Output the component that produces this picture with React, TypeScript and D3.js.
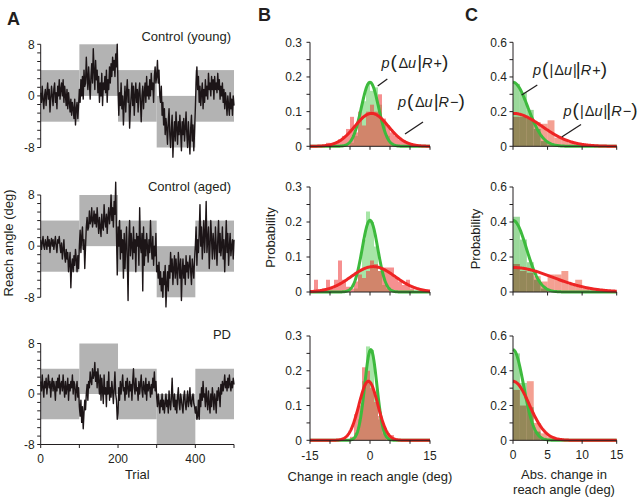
import React from "react";
import * as d3 from "d3";

const FONT = "'Liberation Sans', Arial, Helvetica, sans-serif";

// ---------------- Panel A data ----------------
const TRIAL_STEP = 2;
const groupNames = ["Control (young)", "Control (aged)", "PD"];
const blockStart = [0, 100, 200, 300, 400];
const blockLow = [-4, 0, -4, -8, -4];
const blockHigh = [4, 8, 4, 0, 4];
const trialTicks = [0, 100, 200, 300, 400, 500];
const trialTickLabels = [0, 200, 400];
const reachTickLabels = [8, 0, -8];

const reachYoung = [
  0.5, -1, 1.5, -0.5, -2, 0, 1, -1.5, 0.5, 2, -0.5, 1, -2.5, -0.5, 1.5, 0, -1.5, 1, 2, -1, 0.5, -2, 1.5, 0, 2.5,
  -0.5, 1, 2, 0, 2.5, -1, 1.5, 0, -1.5, 1, -2, 0.5, -1, -2.5, -0.5, -3, -1, -2, -3.5, -0.5, -4.5, -2, -1, -3.5, -1.5,
  1, -1, 2.5, 0, 3, -0.5, 4, 1.5, 2, 6, 3, 1, 4.5, 2, -0.5, 3, 5, 2, 7.3, 4, 1, 5.5, 2.5, 4, 0.5,
  3, -1, 2, 0, 3.5, -1.5, 2, 1, 3, 0.5, 4, -1, 2.5, 1, 4.5, 2, 5, 3, 6, 4, 5.5, 3, 6.5, 4.5, 8,
  1, -3, 0.5, -1.5, 2, -2, 0, -4.5, -1, 1.5, -2.5, 0.5, 2.5, -1, 1, -5, -2, 0, 2, -1.5, 1.5, -3, 0, 2, -1,
  1, -2.5, 0.5, 2, -1, -4, 0, 1.5, -2, 0.5, 2, -1, 3, 0, 1.5, -0.5, 2.5, 0, 3.5, 1, 2, -1, 3, 4.5, 2,
  3, 5.5, 2, 4, 0, -1, 1.5, -3, -1, -4.5, -2, -6, -3.5, -5, -7.5, -4, -2, -6, -8, -5, -3, -9.5, -6, -4, -7,
  -2.5, -5, -7.5, -4, -6, -3, -5.5, -8.5, -4, -6, -3.5, -7, -5, -2.5, -6, -8, -4, -6.5, -9, -5, -3, -7, -4.5, -8.5, -5.5,
  -2, 2, 4.5, 1, 3, -1, 1.5, -1.5, 0.5, 2, -2, 1, -1, 2.5, 0, 1.5, -0.5, 3.5, 1, 2, 0, 3, 1, 2.5, -0.5,
  3, 1, 2, 0.5, 3.5, 1, 2.5, -0.5, 1.5, 0, 2, -1, 1, -2, 0.5, -1, -3, 0, -1.5, -3, 0.5, -2, -0.5, -3, 0,
  -1.5,
];
const reachAged = [
  1, -0.5, 0.5, 1.5, 0, -0.5, 1, 0.5, -0.5, 1.5, 0, 1, -1, 0.5, 1.2, 0, 1, -0.5, 0.5, 1.5, 0, -1, 1, 0.5, 1.5,
  0, -1, 0.5, -2, -0.5, 1, -1.5, -2.5, -0.5, -2, -1, -4, -2.5, -1, -6.5, -3, -2, -4, -1.5, -3, -0.5, -2, -4, -1.5, -3.5,
  0, 2.5, -1, 1.5, 3, -0.5, 1, -3.5, 0, 3, 4.5, 2.5, 3, 5.5, 3.5, 4, 6, 3, 4, 5.5, 3.5, 5, 3, 6, 4,
  2, 4.5, 3, 1.5, 5, 3, 2.5, 6.5, 4, 3, 5, 2, 4.5, 6, 3.5, 5, 8, 4, 6, 3, 7, 5, 10, 2, -4.5,
  3, 0, 4, -2, 2.5, -1, 1, -5, 2, -3.5, 0, 3, -2, -8.5, 1, 4, -1.5, 2, 0, -2, 3, -1, 1, -4, 2,
  0, 1.5, -3, 6, 0, -1, 2, -7, 3, -3, 1, -1.5, 2, 0, -2.5, 1, -1, 4, 0, -2, 1.5, -3, 0, -1.5, 2,
  -4, -3, -5, -2.5, -6, -4, -7, -5, -8, -4, -6, -3, -9.5, -6, -4, -7, -3, -5, -1, -4, -2, -6, -3.5, -1.5, -5,
  -2, -4, -6, -1, -3, -5, -2, -8.5, -4, -2, -5, -3, -6, -1.5, -4, -2.5, -5, -3, -1.5, -4, -6, -2, -3.5, -5, -2,
  0, 3, -3, 1, -1, 2, 6.5, 0, 3, -2, 1, 4, -1, 2, 7, -1, 1, 3, -3.5, 0, 4, 1, -2, 2, 0,
  -2, 3, 0, -3, 1, 4, -1, 2, -1.5, 0, 3, -2, 1, -4, 0, 4, -1, 2, -3, 0, 2, -1.5, 0, 1, -2,
  1,
];
const reachPD = [
  2, 0.5, 3, 1, -0.5, 2, 1, 2.5, 0, 1.5, 3, 1, 2, -0.5, 1.5, 2.5, 0.5, 2, 1, -1, 2, 0.5, 2.5, 1, 3,
  0, 1.5, 2, 0.5, 3, 1, -0.5, 2, 0, 1, 2.5, -1, 1.5, 0.5, 2, 1, 3, 0, 2, 1.5, -1, 0.5, 2, -0.5, 1,
  -2, -3.5, -1, -4.5, -2, -5.5, -3, -1, -2.5, 0, 1.5, -1, 2, 1, 3.5, 2, 1.5, 4, 2.5, 3, 5, 2, 3.5, 1, 4,
  2, 0, 3, -1, 2.5, 0.5, -1.5, 3, 0, 1, -2, 2, 0, 3.5, -1, 1, -0.5, 2, 0.5, -1.5, 1, 3.5, 0, -1, -4,
  -3, 1, -1, 2, 0, 1.5, 3, 0.5, 1, -1, 2, 0, 2.5, 1, -0.5, 2, 0.5, 1.5, -1, 2, 4, 1, 0, 2.5, 0.5,
  1, -1, 2, 0, 1.5, 3, 0.5, -0.5, 2, 1, 0, 2.5, -1, 1.5, 0.5, 2, 1, -0.5, 1.5, 0, 2.5, 1, 3.5, 0.5, 2,
  -0.5, -2, 0, -1.5, -3, -1, -2, 0, -2.5, -1, -3, -1.5, 0, -2, -1, -3, 0.5, -1.5, -2.5, -0.5, 2.5, -1, -2, 0, -2.5,
  -1, -3, -0.5, 1, -1.5, -2.5, 0, -1, -2, -3, -0.5, 0.5, -1.5, -2.5, -1, 0.5, -2, -1, 1, -1.5, -2, -0.5, 0, -1.5, -2,
  -3, -2, -4, -3.5, -1, -4, 0, -2, 1, -1, 2, -0.5, 0, -2, 1, -1, -2.5, 0.5, -1.5, -3, 0, -2, 1, -0.5, -2.5,
  0, -1, -3, 0.5, -1, 1, 0, -2, 1.5, 0, 2, 0.5, 1.5, 3, 1, 2, 0.5, 2.5, 1, 3, 1.5, 0.5, 2, 1, 2.5,
  1.5,
];

// ---------------- Panel B data (bin left edges -15..14, width 1 deg) ----------------
const deltaBinLeft = d3.range(-15, 15);
const deltaTicks = [-15, -10, -5, 0, 5, 10, 15];
const deltaTickLabels = [-15, 0, 15];
const probTicksB = [0, 0.05, 0.1, 0.15, 0.2, 0.25, 0.3];
const probLabelsB = [0.3, 0.2, 0.1, 0];

const deltaRewardYoung = [0,0,0,0,0, 0,0,0,0,0, 0.01,0.03,0.08,0.13,0.18, 0.16,0.17,0.12,0.07,0.03, 0.01,0,0,0,0, 0,0,0,0,0];
const deltaNoRewardYoung = [0,0,0,0,0.01, 0.005,0.01,0.02,0.03,0.05, 0.085,0.04,0.1,0.06,0.1, 0.12,0.1,0.15,0.08,0.06, 0.04,0.03,0.02,0.015,0.01, 0.005,0,0,0,0];
const deltaRewardAged = [0,0,0,0,0, 0,0,0,0,0, 0,0.01,0.06,0.15,0.23, 0.2,0.13,0.06,0.02,0.01, 0,0,0,0,0, 0,0,0,0,0];
const deltaNoRewardAged = [0,0.035,0,0.01,0.035, 0.01,0.035,0.09,0.035,0.015, 0.01,0.03,0.05,0.04,0.06, 0.09,0.08,0.06,0.07,0.07, 0.07,0.04,0.03,0.02,0.035, 0.01,0,0,0,0];
const deltaRewardPD = [0,0,0,0,0, 0,0,0,0,0, 0,0.02,0.06,0.17,0.27, 0.26,0.14,0.06,0.02,0, 0,0,0,0,0, 0,0,0,0,0];
const deltaNoRewardPD = [0,0,0,0,0, 0,0,0,0,0, 0.01,0.075,0.1,0.21,0.2, 0.15,0.11,0.07,0.03,0.02, 0.015,0,0,0,0, 0,0,0,0,0];

// Gaussian fits (mean, sd) for each group
const fitRewardMean = [0, 0, 0.2];
const fitRewardSd = [2.16, 1.95, 1.53];
const fitNoRewardMean = [0.4, 0.8, -0.4];
const fitNoRewardSd = [4.2, 5.5, 2.35];

// ---------------- Panel C data (bin left edges 0..14) ----------------
const absBinLeft = d3.range(0, 15);
const absTicks = [0, 5, 10, 15];
const probTicksC = [0, 0.1, 0.2, 0.3, 0.4, 0.5, 0.6];
const probLabelsC = [0.6, 0.4, 0.2, 0];

const absRewardYoung = [0.36,0.31,0.21,0.1,0.03,0.01,0,0,0,0,0,0,0,0,0];
const absNoRewardYoung = [0.17,0.17,0.16,0.14,0.13,0.15,0.05,0.04,0.02,0.02,0.01,0,0,0,0];
const absRewardAged = [0.43,0.3,0.17,0.07,0.02,0,0,0,0,0,0,0,0,0,0];
const absNoRewardAged = [0.16,0.12,0.11,0.09,0.06,0.1,0.1,0.12,0.04,0.07,0.02,0.01,0,0,0];
const absRewardPD = [0.5,0.33,0.19,0.05,0.01,0,0,0,0,0,0,0,0,0,0];
const absNoRewardPD = [0.29,0.2,0.34,0.1,0.04,0.02,0.01,0,0,0,0,0,0,0,0];

const absFitRewardSd = [2.16, 1.95, 1.53];
const absFitNoRewardSd = [4.2, 5.7, 2.35];

// ---------------- helpers ----------------
const traces = [reachYoung, reachAged, reachPD];
const deltaReward = [deltaRewardYoung, deltaRewardAged, deltaRewardPD];
const deltaNoReward = [deltaNoRewardYoung, deltaNoRewardAged, deltaNoRewardPD];
const absReward = [absRewardYoung, absRewardAged, absRewardPD];
const absNoReward = [absNoRewardYoung, absNoRewardAged, absNoRewardPD];

const normPdf = (x: number, m: number, s: number) =>
  Math.exp(-0.5 * ((x - m) / s) ** 2) / (s * Math.sqrt(2 * Math.PI));

const AX = "#231f20";
const GREEN = "#3dba3d";
const RED = "#ee2424";

const rowsA = [
  { top: 44.3, bottom: 147.5 },
  { top: 195, bottom: 297.3 },
  { top: 343.5, bottom: 444.5 },
];
const rowsBC = [
  { top: 42.3, bottom: 146.3 },
  { top: 187, bottom: 292 },
  { top: 336, bottom: 440.3 },
];

function YAxis({ x, scale, ticks, labels, fmt, gap }: any) {
  const [d0, d1] = scale.domain();
  return (
    <g>
      <line x1={x} x2={x} y1={scale(d0)} y2={scale(d1)} stroke={AX} strokeWidth={1} />
      {ticks.map((t: number, i: number) => (
        <line key={i} x1={x - 3.5} x2={x} y1={scale(t)} y2={scale(t)} stroke={AX} strokeWidth={1} />
      ))}
      {labels.map((t: number, i: number) => (
        <text key={"l" + i} x={x - gap} y={scale(t)} dy="0.36em" textAnchor="end" fontSize={12} fill={AX} fontFamily={FONT}>
          {fmt(t)}
        </text>
      ))}
    </g>
  );
}

function XAxis({ y, scale, ticks, labels, labelY }: any) {
  const [d0, d1] = scale.domain();
  return (
    <g>
      <line x1={scale(d0)} x2={scale(d1)} y1={y} y2={y} stroke={AX} strokeWidth={1} />
      {ticks.map((t: number, i: number) => (
        <line key={i} x1={scale(t)} x2={scale(t)} y1={y} y2={y + 3.5} stroke={AX} strokeWidth={1} />
      ))}
      {labels &&
        labels.map((t: number, i: number) => (
          <text key={"l" + i} x={scale(t)} y={labelY} textAnchor="middle" fontSize={12} fill={AX} fontFamily={FONT}>
            {t}
          </text>
        ))}
    </g>
  );
}

function PanelA({ row }: { row: number }) {
  const { top, bottom } = rowsA[row];
  const x = d3.scaleLinear().domain([0, 500]).range([40.7, 234]);
  const y = d3.scaleLinear().domain([-8, 8]).range([bottom, top]);
  const data = traces[row];
  const line = d3
    .line<number>()
    .x((_, i) => x(i * TRIAL_STEP))
    .y((v) => y(v));
  const minorTicks = d3.range(13).map((i) => -8 + (i * 16) / 12);
  return (
    <g>
      {blockStart.map((s, i) => (
        <rect
          key={i}
          x={x(s)}
          width={x(s + 100) - x(s)}
          y={y(blockHigh[i])}
          height={y(blockLow[i]) - y(blockHigh[i])}
          fill="#b3b3b3"
        />
      ))}
      <path d={line(data) || ""} fill="none" stroke="#1c1517" strokeWidth={1.4} strokeLinejoin="round" />
      <YAxis x={40.7} scale={y} ticks={minorTicks} labels={reachTickLabels} fmt={(t: number) => String(t)} gap={6} />
      {row === 2 && <XAxis y={bottom} scale={x} ticks={trialTicks} labels={trialTickLabels} labelY={462.5} />}
      <text
        x={231}
        y={[40.5, 191, 339][row]}
        textAnchor="end"
        fontSize={13}
        fill={AX}
        fontFamily={FONT}
      >
        {groupNames[row]}
      </text>
    </g>
  );
}

function PanelB({ row }: { row: number }) {
  const { top, bottom } = rowsBC[row];
  const x = d3.scaleLinear().domain([-15, 15]).range([310, 430]);
  const y = d3.scaleLinear().domain([0, 0.3]).range([bottom, top]);
  const xs = d3.range(-15, 15.001, 0.1);
  const curve = (m: number, s: number) =>
    d3
      .line<number>()
      .x((v) => x(v))
      .y((v) => y(normPdf(v, m, s)))(xs) || "";
  return (
    <g>
      {deltaBinLeft.map((b, i) =>
        deltaReward[row][i] > 0 ? (
          <rect key={"g" + i} x={x(b)} width={x(b + 1) - x(b)} y={y(deltaReward[row][i])} height={y(0) - y(deltaReward[row][i])} fill="#5fcf5f" opacity={0.55} />
        ) : null
      )}
      {deltaBinLeft.map((b, i) =>
        deltaNoReward[row][i] > 0 ? (
          <rect key={"r" + i} x={x(b)} width={x(b + 1) - x(b)} y={y(deltaNoReward[row][i])} height={y(0) - y(deltaNoReward[row][i])} fill="#f04040" opacity={0.58} />
        ) : null
      )}
      <path d={curve(fitRewardMean[row], fitRewardSd[row])} fill="none" stroke={GREEN} strokeWidth={3} />
      <path d={curve(fitNoRewardMean[row], fitNoRewardSd[row])} fill="none" stroke={RED} strokeWidth={3} />
      <YAxis x={310} scale={y} ticks={probTicksB} labels={probLabelsB} fmt={(t: number) => String(t)} gap={8} />
      <XAxis y={bottom} scale={x} ticks={deltaTicks} labels={row === 2 ? deltaTickLabels : null} labelY={460} />
    </g>
  );
}

function PanelC({ row }: { row: number }) {
  const { top, bottom } = rowsBC[row];
  const x = d3.scaleLinear().domain([0, 15]).range([513, 616.7]);
  const y = d3.scaleLinear().domain([0, 0.6]).range([bottom, top]);
  const xs = d3.range(0, 15.001, 0.1);
  const curve = (s: number) =>
    d3
      .line<number>()
      .x((v) => x(v))
      .y((v) => y(2 * normPdf(v, 0, s)))(xs) || "";
  return (
    <g>
      <g style={{ isolation: "isolate" } as any}>
        {absBinLeft.map((b, i) =>
          absReward[row][i] > 0 ? (
            <rect key={"g" + i} x={x(b)} width={x(b + 1) - x(b)} y={y(absReward[row][i])} height={y(0) - y(absReward[row][i])} fill="#9bd99b" />
          ) : null
        )}
        {absBinLeft.map((b, i) =>
          absNoReward[row][i] > 0 ? (
            <rect key={"r" + i} x={x(b)} width={x(b + 1) - x(b)} y={y(absNoReward[row][i])} height={y(0) - y(absNoReward[row][i])} fill="#f4a092" style={{ mixBlendMode: "multiply" }} />
          ) : null
        )}
      </g>
      <path d={curve(absFitRewardSd[row])} fill="none" stroke={GREEN} strokeWidth={3} />
      <path d={curve(absFitNoRewardSd[row])} fill="none" stroke={RED} strokeWidth={3} />
      <YAxis x={513} scale={y} ticks={probTicksC} labels={probLabelsC} fmt={(t: number) => String(t)} gap={6} />
      <XAxis y={bottom} scale={x} ticks={absTicks} labels={row === 2 ? absTicks : null} labelY={458.5} />
    </g>
  );
}

function CondLabel({ x, y, sign, abs }: { x: number; y: number; sign: string; abs: boolean }) {
  const big = 19;
  return (
    <text x={x} y={y} fontSize={14.5} fill={AX} fontFamily={FONT}>
      <tspan fontStyle="italic">p</tspan>
      <tspan fontSize={big} dx={1}>(</tspan>
      {abs && <tspan dx={1}>|</tspan>}
      <tspan dx={abs ? 1 : 1.5}>Δ</tspan>
      <tspan fontStyle="italic">u</tspan>
      {abs && <tspan dx={1}>|</tspan>}
      <tspan fontSize={big} dx={abs ? -1 : 1}>|</tspan>
      <tspan fontStyle="italic">R</tspan>
      <tspan dx={1}>{sign}</tspan>
      <tspan fontSize={big}>)</tspan>
    </text>
  );
}

export default function App() {
  return (
    <svg
      width={640}
      height={499}
      viewBox="0 0 640 499"
      style={{ position: "absolute", left: 0, top: 0, background: "#fff" }}
      fontFamily={FONT}
    >
      <rect x={0} y={0} width={640} height={499} fill="#fff" />
      {[0, 1, 2].map((r) => (
        <PanelA key={"a" + r} row={r} />
      ))}
      {[0, 1, 2].map((r) => (
        <PanelB key={"b" + r} row={r} />
      ))}
      {[0, 1, 2].map((r) => (
        <PanelC key={"c" + r} row={r} />
      ))}

      {/* panel letters */}
      <text x={7} y={24.5} fontSize={18} fontWeight="bold" fill={AX}>A</text>
      <text x={258} y={20.5} fontSize={18} fontWeight="bold" fill={AX}>B</text>
      <text x={465} y={20.5} fontSize={18} fontWeight="bold" fill={AX}>C</text>

      {/* axis titles */}
      <text transform="translate(13,243) rotate(-90)" textAnchor="middle" fontSize={13} fill={AX}>
        Reach angle (deg)
      </text>
      <text x={137.3} y={479} textAnchor="middle" fontSize={13} fill={AX}>Trial</text>
      <text transform="translate(275,237.5) rotate(-90)" textAnchor="middle" fontSize={13} fill={AX}>
        Probability
      </text>
      <text transform="translate(479.5,239) rotate(-90)" textAnchor="middle" fontSize={13} fill={AX}>
        Probability
      </text>
      <text x={370} y={480.5} textAnchor="middle" fontSize={13} fill={AX}>Change in reach angle (deg)</text>
      <text x={564} y={479} textAnchor="middle" fontSize={13} fill={AX}>Abs. change in</text>
      <text x={564} y={493.5} textAnchor="middle" fontSize={13} fill={AX}>reach angle (deg)</text>

      {/* annotations */}
      <CondLabel x={381.5} y={68} sign="+" abs={false} />
      <line x1={377.7} y1={86} x2={387.3} y2={79} stroke={AX} strokeWidth={1.3} />
      <CondLabel x={398} y={107} sign="−" abs={false} />
      <line x1={405} y1={134} x2={423} y2={122} stroke={AX} strokeWidth={1.3} />
      <CondLabel x={533} y={74.5} sign="+" abs={true} />
      <line x1={521.7} y1={95} x2={537.3} y2={85} stroke={AX} strokeWidth={1.3} />
      <CondLabel x={563.5} y={116} sign="−" abs={true} />
      <line x1={561.7} y1={137} x2={581} y2={124.5} stroke={AX} strokeWidth={1.3} />
    </svg>
  );
}
